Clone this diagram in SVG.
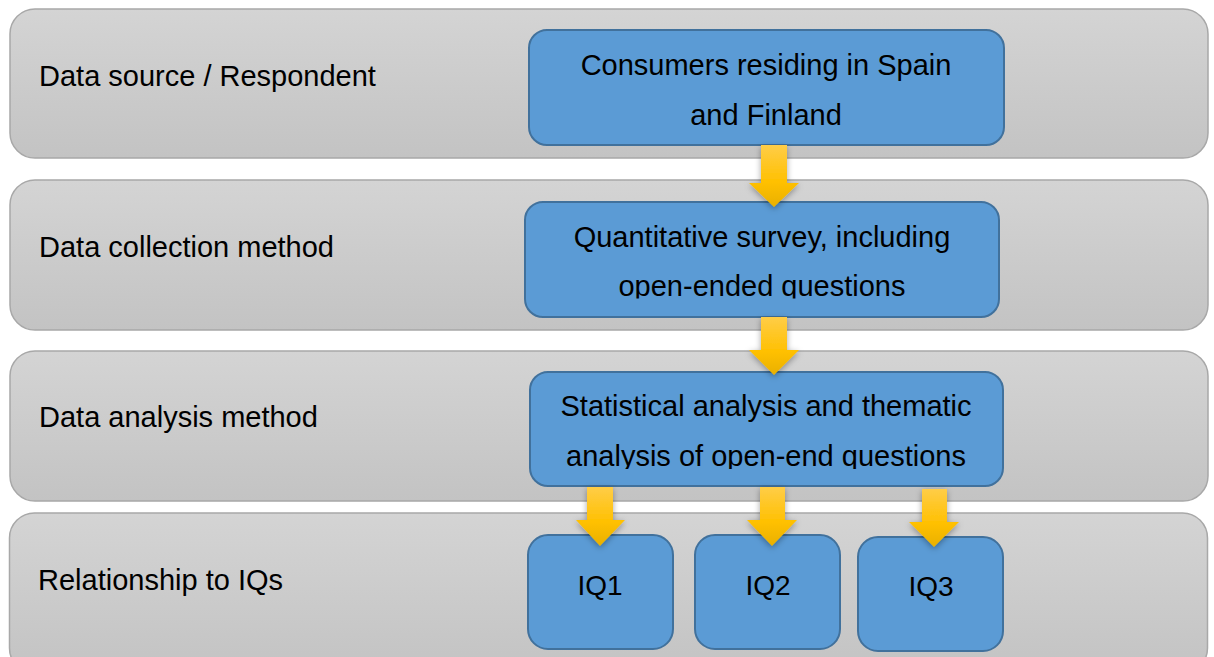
<svg xmlns="http://www.w3.org/2000/svg" width="1214" height="657" viewBox="0 0 1214 657">
  <style>
    .band { fill: url(#bandFill); stroke: #a8a8a8; stroke-width: 1.5; }
    .box { fill: #5b9bd5; stroke: #41719c; stroke-width: 2; }
    .label { font-family: "Liberation Sans", Arial, sans-serif; font-size: 29px; fill: #000; }
    .boxText { font-family: "Liberation Sans", Arial, sans-serif; font-size: 29px; fill: #000; text-anchor: middle; }
    .iqText { font-family: "Liberation Sans", Arial, sans-serif; font-size: 28px; fill: #000; text-anchor: middle; }
    .arrow { fill: url(#arrowFill); filter: url(#arrowShadow); }
  </style>
  <defs>
    <linearGradient id="bandFill" x1="0" y1="0" x2="0" y2="1">
      <stop offset="0" stop-color="#d4d4d4"/>
      <stop offset="1" stop-color="#c3c3c3"/>
    </linearGradient>
    <linearGradient id="arrowFill" x1="0" y1="0" x2="0" y2="1">
      <stop offset="0" stop-color="#ffcd48"/>
      <stop offset="0.6" stop-color="#ffc000"/>
      <stop offset="1" stop-color="#e9b000"/>
    </linearGradient>
    <filter id="arrowShadow" x="-50%" y="-30%" width="200%" height="160%">
      <feDropShadow dx="0" dy="2" stdDeviation="3" flood-color="#000" flood-opacity="0.35"/>
    </filter>
    <!-- second text lines are cut just below the baseline -->
    <clipPath id="clipSurvey"><rect x="525" y="200" width="475" height="98.5"/></clipPath>
    <clipPath id="clipAnalysis"><rect x="529" y="371" width="475" height="98"/></clipPath>
  </defs>

  <!-- row bands -->
  <g id="row-source">
    <rect class="band" x="10" y="9" width="1198" height="149" rx="25"/>
    <text class="label" x="39" y="86">Data source / Respondent</text>
  </g>
  <g id="row-collection">
    <rect class="band" x="10" y="180" width="1198" height="150" rx="25"/>
    <text class="label" x="39" y="257">Data collection method</text>
  </g>
  <g id="row-analysis">
    <rect class="band" x="10" y="351" width="1198" height="150" rx="25"/>
    <text class="label" x="39" y="427">Data analysis method</text>
  </g>
  <g id="row-iqs">
    <rect class="band" x="9.5" y="513" width="1198" height="160" rx="25"/>
    <text class="label" x="38" y="590">Relationship to IQs</text>
  </g>

  <!-- process boxes -->
  <g id="node-consumers">
    <rect class="box" x="529" y="30" width="475" height="115" rx="18"/>
    <text class="boxText" x="766" y="75">Consumers residing in Spain</text>
    <text class="boxText" x="766" y="125">and Finland</text>
  </g>
  <g id="node-survey">
    <rect class="box" x="525" y="202" width="474" height="115" rx="18"/>
    <text class="boxText" x="762" y="247">Quantitative survey, including</text>
    <text class="boxText" x="762" y="296" clip-path="url(#clipSurvey)">open-ended questions</text>
  </g>
  <g id="node-analysis">
    <rect class="box" x="530" y="372" width="473" height="114" rx="18"/>
    <text class="boxText" x="766" y="416">Statistical analysis and thematic</text>
    <text class="boxText" x="766" y="466" clip-path="url(#clipAnalysis)">analysis of open-end questions</text>
  </g>
  <g id="node-iq1">
    <rect class="box" x="528" y="535" width="145" height="114" rx="20"/>
    <text class="iqText" x="600" y="595">IQ1</text>
  </g>
  <g id="node-iq2">
    <rect class="box" x="695" y="535" width="145" height="114" rx="20"/>
    <text class="iqText" x="768" y="595">IQ2</text>
  </g>
  <g id="node-iq3">
    <rect class="box" x="858" y="537" width="145" height="114" rx="20"/>
    <text class="iqText" x="931" y="596">IQ3</text>
  </g>

  <!-- block arrows between stages -->
  <g id="connectors">
    <polygon class="arrow" points="761,145 787,145 787,183 799,183 774,207 749,183 761,183"/>
    <polygon class="arrow" points="761,317 787,317 787,350 799,350 774,375 749,350 761,350"/>
    <polygon class="arrow" points="587,487 613,487 613,520 625,520 600,546 576,520 587,520"/>
    <polygon class="arrow" points="760,487 785,487 785,520 797,520 772,546 747,520 760,520"/>
    <polygon class="arrow" points="922,489 947,489 947,522 959,522 934,547 909,522 922,522"/>
  </g>
</svg>
